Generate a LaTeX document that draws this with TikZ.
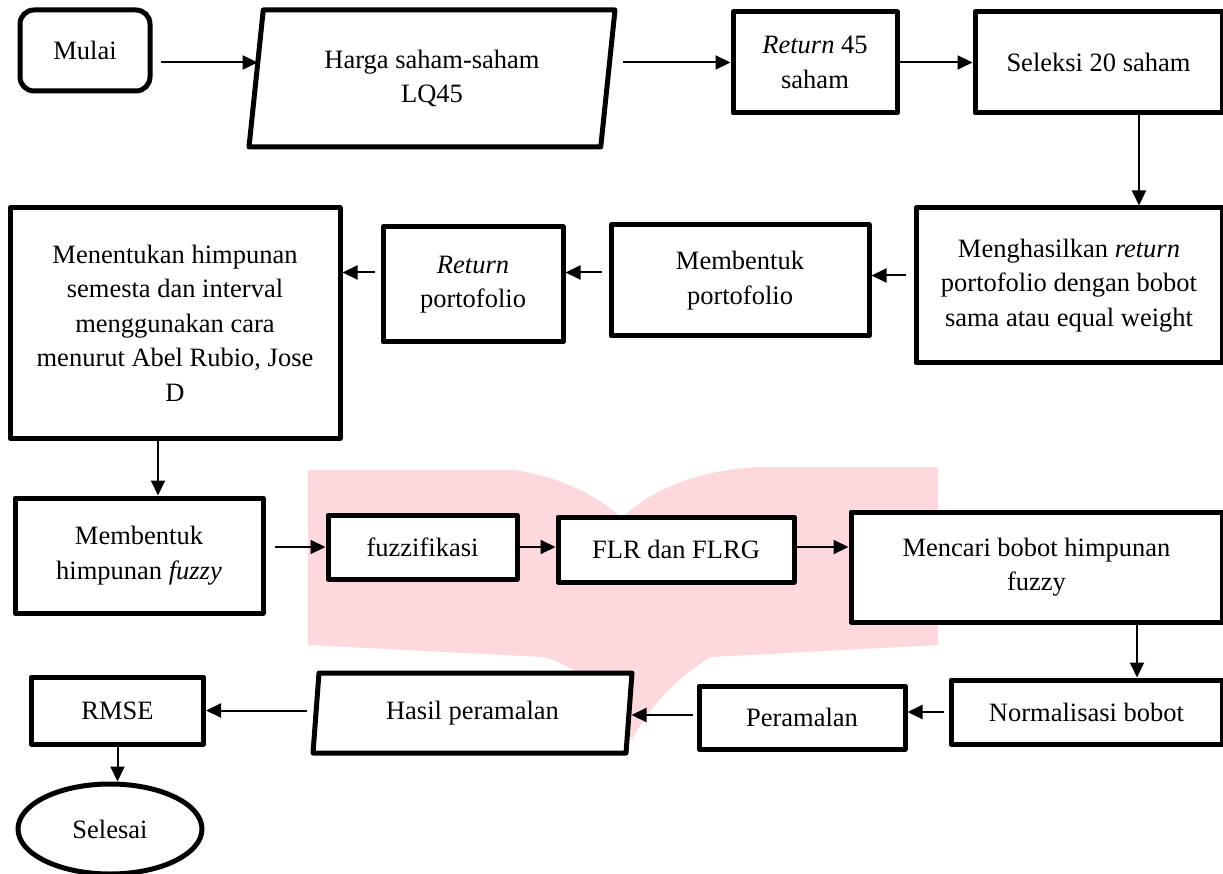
\documentclass[tikz,border=0pt]{standalone}
\usepackage{fontspec}
\setmainfont{Liberation Serif}
\usetikzlibrary{shapes.geometric,arrows.meta}
\definecolor{wmpink}{RGB}{253,216,221}

\begin{document}
\begin{tikzpicture}[x=1pt,y=-1pt,
    % define styles
    proses/.style={
        draw,
        line width=5pt,
        line join=round,
        fill=white,
        align=center,
        inner sep=0pt,
        font=\fontsize{26.5}{34.5}\selectfont
    },
    data/.style={
        proses,
        trapezium,
        trapezium left angle=76,
        trapezium right angle=104,
        trapezium stretches body
    },
    terminal/.style={
        proses,
        rounded corners=14pt
    },
    akhir/.style={
        proses,
        ellipse
    },
    panah/.style={
        -{Triangle[length=15pt,width=14pt]},
        line width=2pt
    }
]
\useasboundingbox (0,0) rectangle (1223,874);
% watermark
\fill[wmpink] (308,470) -- (515,470) .. controls (565,478) and (600,498) .. (622,518)
    .. controls (645,495) and (690,470) .. (760,467) -- (938,467) -- (938,645)
    -- (711,657) .. controls (680,675) and (650,705) .. (632,740)
    .. controls (615,705) and (580,665) .. (543,657) -- (308,645) -- cycle;

% Baris 1
\node[terminal,minimum width=130pt,minimum height=81pt] (mulai) at (85,50.5) {\raisebox{-4pt}{Mulai}};
\node[data,minimum width=366pt,minimum height=137pt] (harga) at (432,78.5) {Harga saham-saham\\LQ45};
\node[proses,minimum width=164pt,minimum height=101pt] (ret45) at (815,62.5) {\textit{Return} 45\\saham};
\node[proses,minimum width=247pt,minimum height=101pt] (seleksi) at (1098.5,62.5) {Seleksi 20 saham};

% Baris 2
\node[proses,minimum width=306pt,minimum height=155pt] (ewport) at (1069,285.5)
    {Menghasilkan \textit{return}\\portofolio dengan bobot\\sama atau equal weight};
\node[proses,minimum width=258pt,minimum height=111pt] (bentukport) at (740,280.5) {Membentuk\\portofolio};
\node[proses,minimum width=180pt,minimum height=115pt] (retport) at (473,284.5) {\textit{Return}\\portofolio};
\node[proses,minimum width=330pt,minimum height=230pt] (semesta) at (175,323)
    {Menentukan himpunan\\semesta dan interval\\menggunakan cara\\menurut Abel Rubio, Jose\\D};

% Baris 3
\node[proses,minimum width=248pt,minimum height=115pt] (himfuzzy) at (139,555.5) {Membentuk\\himpunan \textit{fuzzy}};
\node[proses,minimum width=189pt,minimum height=64pt] (fuzz) at (422.5,547) {fuzzifikasi};
\node[proses,minimum width=236pt,minimum height=65pt] (flr) at (676,549.5) {FLR dan FLRG};
\node[proses,minimum width=371pt,minimum height=110pt] (bobot) at (1036.5,567) {Mencari bobot himpunan\\fuzzy};

% Baris 4
\node[proses,minimum width=271pt,minimum height=64pt] (normal) at (1086.5,712) {Normalisasi bobot};
\node[proses,minimum width=206pt,minimum height=63pt] (ramal) at (802,717.5) {Peramalan};
\node[data,minimum width=319pt,minimum height=80pt] (hasil) at (472.5,713) {Hasil peramalan};
\node[proses,minimum width=172pt,minimum height=67pt] (rmse) at (117.5,710.5) {RMSE};
\node[akhir,minimum width=184pt,minimum height=90pt] (selesai) at (110,829) {Selesai};

% Panah baris 1
\draw[panah] ([xshift=8pt]mulai.east |- ret45.west) -- ([xshift=4pt]harga.west |- ret45.west);
\draw[panah] ([xshift=13pt]harga.east |- ret45.west) -- (ret45.west);
\draw[panah] (ret45.east) -- (seleksi.west);
\draw[panah] ([xshift=40.5pt]seleksi.south) -- ([xshift=40.5pt]seleksi.south |- ewport.north);
% Panah baris 2
\draw[panah] ([xshift=-8pt,yshift=5pt]ewport.west |- bentukport.east) -- ([yshift=5pt]bentukport.east);
\draw[panah] ([xshift=-7pt,yshift=12pt]bentukport.west |- retport.east) -- ([yshift=12pt]retport.east);
\draw[panah] ([xshift=-6pt,yshift=12pt]retport.west) -- ([yshift=12pt]retport.west -| semesta.east);
\draw[panah] ([xshift=-17pt]semesta.south) -- ([xshift=-17pt]semesta.south |- himfuzzy.north);
% Panah baris 3
\draw[panah] ([xshift=9pt]himfuzzy.east |- fuzz.west) -- (fuzz.west);
\draw[panah] (fuzz.east) -- (fuzz.east -| flr.west);
\draw[panah] (flr.east |- fuzz.east) -- (fuzz.east -| bobot.west);
\draw[panah] ([xshift=100.5pt]bobot.south) -- ([xshift=100.5pt]bobot.south |- normal.north);
% Panah baris 4
\draw[panah] ([xshift=-5pt]normal.west) -- (normal.west -| ramal.east);
\draw[panah] ([xshift=-4pt,yshift=2.5pt]ramal.west) -- ([yshift=2.5pt]ramal.west -| hasil.east);
\draw[panah] ([xshift=-6pt]hasil.west |- rmse.east) -- (rmse.east);
\draw[panah] (rmse.south) -- (rmse.south |- selesai.north);
\end{tikzpicture}
\end{document}
